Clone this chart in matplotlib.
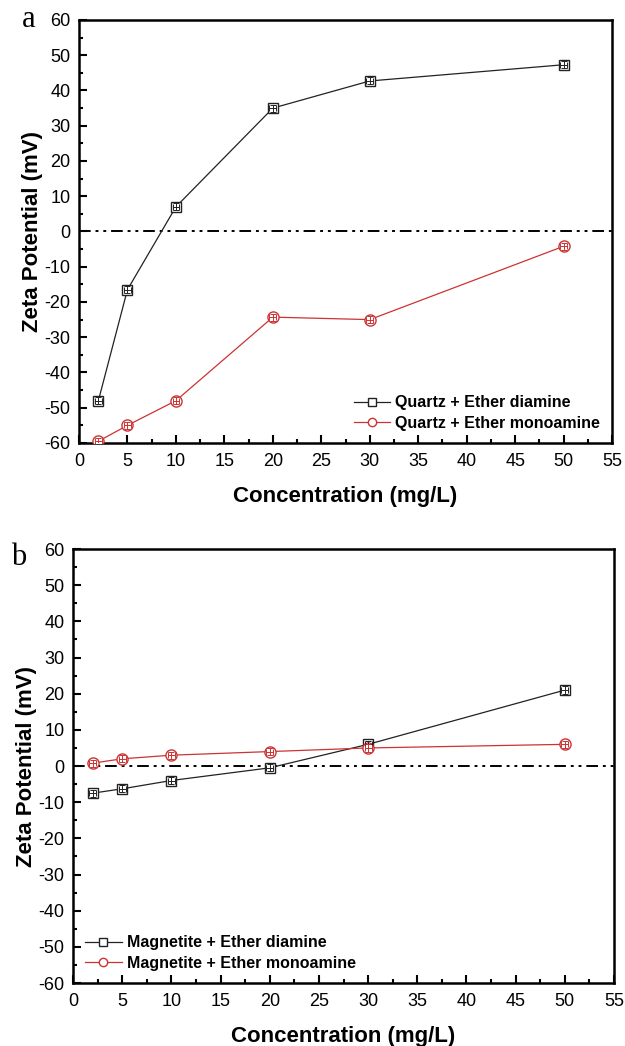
import numpy as np
import matplotlib.pyplot as plt

conc = [2, 5, 10, 20, 30, 50]

quartz_diamine = [-48, -16.5, 7, 35, 42.7, 47.3]
quartz_monoamine = [-59.5, -55, -48, -24.3, -25, -4.2]
magnetite_diamine = [-7.5, -6.3, -4, -0.5, 6, 21]
magnetite_monoamine = [0.8, 2, 3, 4, 5, 6]

plt.rcParams['font.family'] = ['Liberation Sans', 'DejaVu Sans']
plt.rcParams['axes.unicode_minus'] = False

fig = plt.figure(figsize=(6.25, 10.46), dpi=100)
ax_a = fig.add_axes([0.1264, 0.5765, 0.853, 0.4044])
ax_b = fig.add_axes([0.1168, 0.0602, 0.8656, 0.4149])

red = '#cc3333'
dark = '#222222'

def series(ax, y, marker, col, ms, lab):
    ax.plot(conc, y, '-', marker=marker, color=col, lw=0.9, mfc='white',
            mec=col, ms=ms, mew=1.0, label=lab, zorder=3)
    # small error bars drawn over the open markers
    ax.errorbar(conc, y, yerr=1.0, xerr=0.35, fmt='none', ecolor=col,
                elinewidth=0.7, capsize=2.2, capthick=0.7, zorder=4)

def panel(ax, d1, d2, lab1, lab2, loc, letter, lx, ly):
    ax.axhline(0, color='black', lw=1.4, ls=(0, (6, 2.5, 1.5, 2.5, 1.5, 2.5)), zorder=1)
    series(ax, d1, 's', dark, 7, lab1)
    series(ax, d2, 'o', red, 8, lab2)
    ax.set_xlim(0, 55)
    ax.set_ylim(-60, 60)
    ax.set_xticks(np.arange(0, 56, 5))
    ax.set_xticks(np.arange(2.5, 55, 5), minor=True)
    ax.set_yticks(np.arange(-60, 61, 10))
    ax.set_yticks(np.arange(-55, 60, 10), minor=True)
    ax.tick_params(which='both', direction='in', top=False, right=False,
                   labelsize=13, width=1.5)
    ax.tick_params(axis='x', which='major', pad=7)
    ax.tick_params(axis='y', which='major', pad=6)
    ax.tick_params(which='major', length=6)
    ax.tick_params(which='minor', length=3)
    for s in ax.spines.values():
        s.set_linewidth(1.8)
    ax.set_xlabel('Concentration (mg/L)', fontsize=16, fontweight='bold', labelpad=12)
    ax.set_ylabel('Zeta Potential (mV)', fontsize=16, fontweight='bold', labelpad=1)
    ax.legend(loc=loc, frameon=False, prop={'weight': 'bold', 'size': 11.5},
              markerscale=0.75, handlelength=2.3, handletextpad=0.3,
              borderaxespad=0.35, labelspacing=0.35)
    ax.text(lx, ly, letter, transform=ax.transAxes, fontsize=22,
            family='Liberation Serif', va='center', ha='center')

panel(ax_a, quartz_diamine, quartz_monoamine,
      'Quartz + Ether diamine', 'Quartz + Ether monoamine', 'lower right', 'a', -0.094, 1.0)
panel(ax_b, magnetite_diamine, magnetite_monoamine,
      'Magnetite + Ether diamine', 'Magnetite + Ether monoamine', 'lower left', 'b', -0.1, 0.98)

fig.savefig('out.png', dpi=100)
